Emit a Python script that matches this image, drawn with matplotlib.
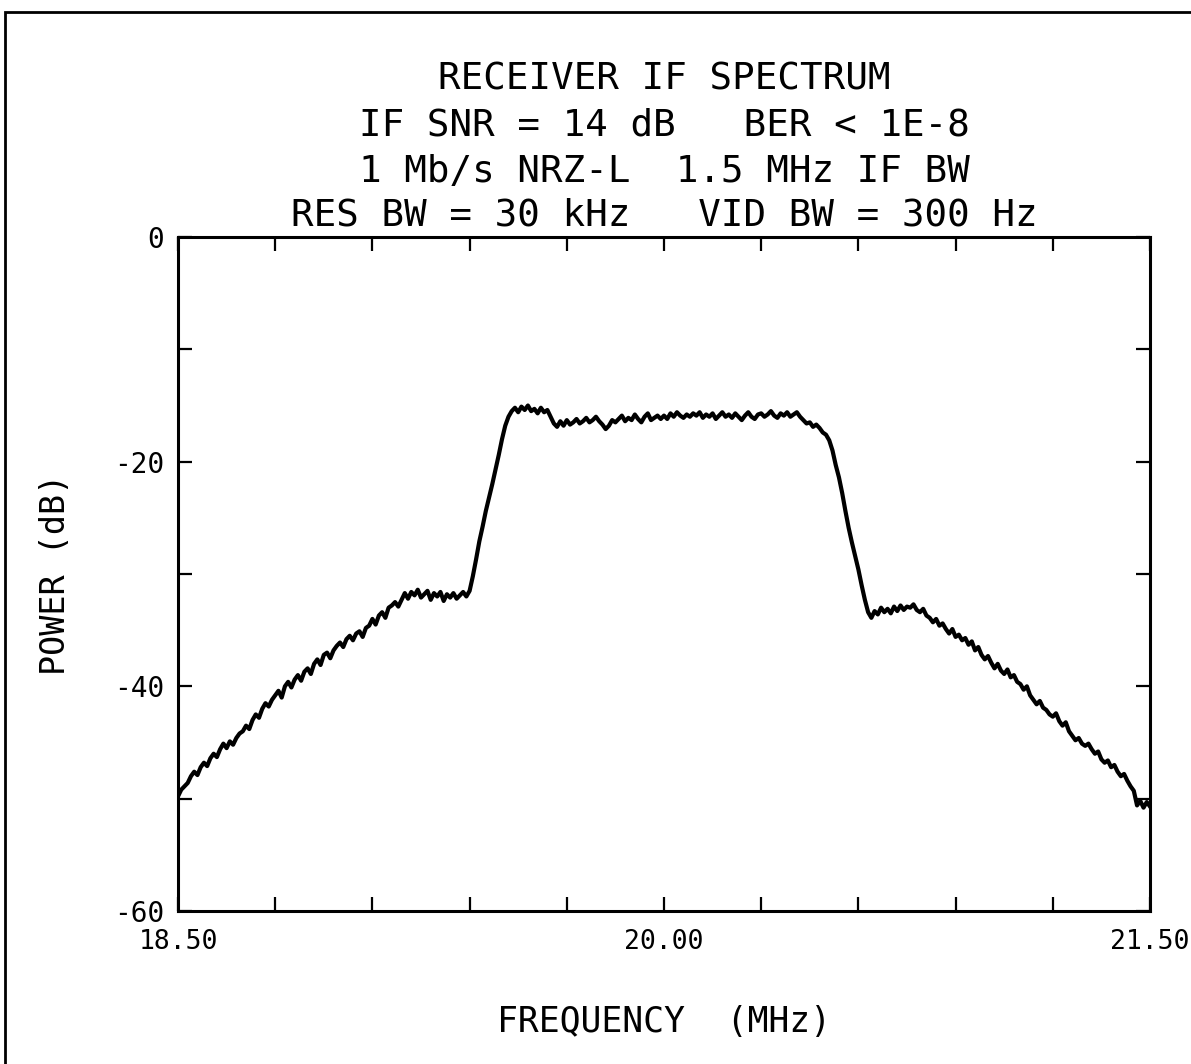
import numpy as np
import matplotlib
matplotlib.use("Agg")
import matplotlib.pyplot as plt
from matplotlib.patches import Rectangle

# ---- data (0.01 MHz steps from 18.50 to 21.50) ----
f_start, f_stop = 18.50, 21.50
power_db = [
    # 18.50 - 18.59
    -49.8, -49.2, -48.9, -48.6, -48.0, -47.6, -47.9, -47.2, -46.8, -47.1,
    # 18.60
    -46.4, -46.0, -46.3, -45.6, -45.1, -45.5, -44.9, -45.2, -44.6, -44.2,
    # 18.70
    -44.0, -43.5, -43.8, -43.0, -42.5, -42.8, -42.0, -41.5, -41.8, -41.2,
    # 18.80
    -40.8, -40.4, -41.0, -40.0, -39.6, -40.1, -39.4, -39.0, -39.5, -38.7,
    # 18.90
    -38.4, -38.9, -38.0, -37.6, -38.1, -37.2, -37.0, -37.5, -36.8, -36.4,
    # 19.00
    -36.1, -36.5, -35.8, -35.5, -35.9, -35.3, -35.1, -35.6, -34.8, -34.6,
    # 19.10
    -34.0, -34.5, -33.7, -33.4, -33.9, -33.0, -32.8, -32.5, -32.9, -32.3,
    # 19.20
    -31.7, -32.2, -31.6, -31.9, -31.4, -32.1, -31.8, -31.5, -32.3, -31.7,
    # 19.30
    -32.0, -31.6, -32.4, -31.8, -32.1, -31.7, -32.2, -31.9, -31.6, -32.0,
    # 19.40
    -31.5, -30.2, -28.7, -27.1, -25.8, -24.4, -23.2, -22.0, -20.7, -19.4,
    # 19.50
    -18.0, -16.8, -16.0, -15.5, -15.2, -15.6, -15.1, -15.4, -15.0, -15.5,
    # 19.60
    -15.3, -15.7, -15.2, -15.6, -15.4, -16.0, -16.6, -16.9, -16.4, -16.8,
    # 19.70
    -16.3, -16.7, -16.5, -16.2, -16.6, -16.4, -16.1, -16.5, -16.3, -16.0,
    # 19.80
    -16.4, -16.7, -17.1, -16.8, -16.3, -16.5, -16.2, -15.9, -16.4, -16.1,
    # 19.90
    -16.3, -15.8, -16.2, -16.5, -16.0, -15.7, -16.3, -16.1, -15.9, -16.2,
    # 20.00
    -15.9, -16.2, -15.7, -16.0, -15.6, -15.9, -16.1, -15.8, -16.0, -15.7,
    # 20.10
    -15.9, -15.6, -16.1, -15.8, -16.0, -15.7, -16.2, -15.9, -15.6, -16.0,
    # 20.20
    -15.8, -16.1, -15.7, -16.0, -16.3, -15.9, -15.6, -16.0, -16.2, -15.8,
    # 20.30
    -15.7, -16.0, -15.8, -15.5, -15.9, -16.1, -15.7, -15.9, -15.6, -16.0,
    # 20.40
    -15.8, -15.6, -16.0, -16.3, -16.6, -16.5, -16.9, -16.7, -17.0, -17.4,
    # 20.50
    -17.6, -18.1, -19.0, -20.3, -21.4, -22.8, -24.4, -25.9, -27.2, -28.4,
    # 20.60
    -29.6, -31.0, -32.3, -33.4, -33.9, -33.3, -33.6, -33.0, -33.4, -33.1,
    # 20.70
    -33.5, -32.9, -33.3, -32.8, -33.2, -32.9, -33.0, -32.7, -33.2, -33.4,
    # 20.80
    -33.1, -33.7, -33.9, -34.3, -34.0, -34.6, -34.4, -34.9, -35.3, -34.9,
    # 20.90
    -35.6, -35.4, -35.9, -35.7, -36.3, -36.0, -36.8, -36.5, -37.2, -37.6,
    # 21.00
    -37.3, -37.9, -38.4, -38.0, -38.6, -38.9, -38.5, -39.2, -39.0, -39.6,
    # 21.10
    -39.8, -40.3, -40.0, -40.8, -41.2, -41.6, -41.3, -41.9, -42.1, -42.5,
    # 21.20
    -42.7, -42.4, -43.1, -43.5, -43.2, -44.0, -44.4, -44.8, -44.6, -45.1,
    # 21.30
    -45.3, -45.1, -45.6, -46.0, -45.8, -46.5, -46.8, -46.6, -47.2, -47.0,
    # 21.40
    -47.6, -48.0, -47.8, -48.4, -48.9, -49.3, -50.6, -50.2, -50.8, -50.3,
    # 21.50
    -50.7,
]
freq_mhz = np.linspace(f_start, f_stop, len(power_db))

x_ticks = [18.5, 18.8, 19.1, 19.4, 19.7, 20.0, 20.3, 20.6, 20.9, 21.2, 21.5]
x_tick_labels = ["18.50", "", "", "", "", "20.00", "", "", "", "", "21.50"]
y_ticks = [0, -10, -20, -30, -40, -50, -60]
y_tick_labels = ["0", "", "-20", "", "-40", "", "-60"]

title_lines = [
    "RECEIVER IF SPECTRUM",
    "IF SNR = 14 dB   BER < 1E-8",
    "1 Mb/s NRZ-L  1.5 MHz IF BW",
    "RES BW = 30 kHz   VID BW = 300 Hz",
]

# ---- figure ----
W, H = 1191, 1064
fig = plt.figure(figsize=(W / 100, H / 100), dpi=100)
mono = ["DejaVu Sans Mono"]

ax = fig.add_axes([178 / W, 1 - 911 / H, (1150 - 178) / W, (911 - 237) / H])
ax.plot(freq_mhz, power_db, color="black", linewidth=3.0, solid_joinstyle="round")
ax.set_xlim(f_start, f_stop)
ax.set_ylim(-60, 0)

ax.set_xticks(x_ticks)
ax.set_xticklabels(x_tick_labels, fontfamily=mono, fontsize=19)
ax.set_yticks(y_ticks)
ax.set_yticklabels(y_tick_labels, fontfamily=mono, fontsize=20)
ax.tick_params(direction="in", length=10, width=1.6, top=True, right=True,
               color="black", pad=10)
ax.tick_params(axis="x", pad=13)
for sp in ax.spines.values():
    sp.set_linewidth(2.2)
    sp.set_color("black")

ax.set_xlabel("FREQUENCY  (MHz)", fontfamily=mono, fontsize=25, labelpad=36)
ax.set_ylabel("POWER (dB)", fontfamily=mono, fontsize=24, labelpad=30)

title_y = [80, 126, 172, 216]
for line, yy in zip(title_lines, title_y):
    fig.text(664 / W, 1 - yy / H, line, ha="center", va="center",
             fontfamily=mono, fontsize=27)

# outer border of the scanned page
fig.patches.append(Rectangle((5 / W, -0.05), 1.2, 1 - 12 / H + 0.05,
                             transform=fig.transFigure, fill=False,
                             edgecolor="black", linewidth=2.0))

fig.savefig("out.png", dpi=100, facecolor="white")
